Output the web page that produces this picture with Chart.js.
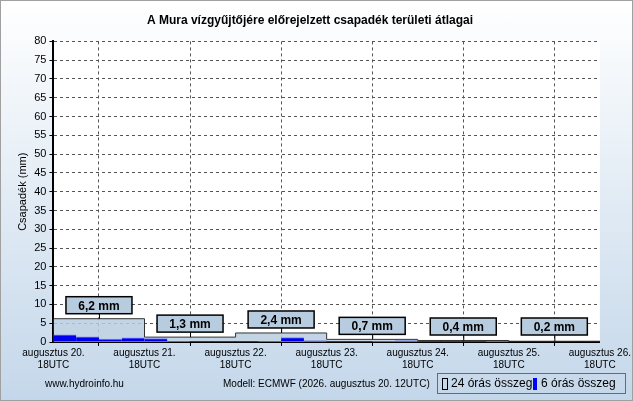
<!DOCTYPE html>
<html>
<head>
<meta charset="utf-8">
<script src="https://cdn.jsdelivr.net/npm/chart.js@4"></script>
<style>
  html, body { margin: 0; padding: 0; }
  #wrap { width: 631px; height: 399px; border: 1px solid #a0a0a0;
    background: linear-gradient(#ffffff, #c4d7ea); }
</style>
</head>
<body>
<div id="wrap"><canvas id="chart" width="631" height="399"></canvas></div>
<script>
// x in 6-hour steps from aug 20 18UTC
const dayLabels = ["augusztus 20.", "augusztus 21.", "augusztus 22.", "augusztus 23.", "augusztus 24.", "augusztus 25.", "augusztus 26."];
const dailySums = [6.2, 1.3, 2.4, 0.7, 0.4, 0.2];
const dailyText = ["6,2 mm", "1,3 mm", "2,4 mm", "0,7 mm", "0,4 mm", "0,2 mm"];
const sixHourly = [
  1.9, 1.4, 0.8, 1.1,
  0.9, 0.2, 0.1, 0.1,
  0.1, 0.2, 1.2, 0.3,
  0.1, 0.1, 0.2, 0.3,
  0.1, 0.1, 0.1, 0.2,
  0.05, 0.05, 0.05, 0.05
];

const stepPoints = dailySums.map((v, i) => ({ x: i * 4, y: v }));
stepPoints.push({ x: 24, y: 0 });
const barPoints = sixHourly.map((v, i) => ({ x: i + 0.5, y: v }));

const decorPlugin = {
  id: "decor",
  beforeDraw(chart) {
    const { ctx, chartArea: a } = chart;
    ctx.save();
    ctx.fillStyle = "#ffffff";
    ctx.fillRect(a.left, a.top, a.right - a.left, a.bottom - a.top);
    ctx.restore();
  },
  afterDraw(chart) {
    const { ctx, scales } = chart;
    const xs = scales.x, ys = scales.y;
    ctx.save();
    ctx.font = "bold 12px Arial, 'Liberation Sans'";
    ctx.textAlign = "center";
    ctx.textBaseline = "middle";
    dailySums.forEach((v, i) => {
      const cx = xs.getPixelForValue(i * 4 + 2);
      const top = ys.getPixelForValue(v);
      const bottom = Math.min(top - 5, 334);
      const h = 17, w = 66;
      ctx.strokeStyle = "#000";
      ctx.lineWidth = 1;
      ctx.beginPath();
      ctx.moveTo(cx + 0.5, bottom);
      ctx.lineTo(cx + 0.5, top);
      ctx.stroke();
      ctx.fillStyle = "#b8cce0";
      ctx.fillRect(cx - w / 2, bottom - h, w, h);
      ctx.lineWidth = 1.5;
      ctx.strokeRect(cx - w / 2, bottom - h, w, h);
      ctx.fillStyle = "#000";
      ctx.fillText(dailyText[i], cx, bottom - h / 2 + 1);
    });
    ctx.font = "10px Arial, 'Liberation Sans'";
    ctx.textAlign = "left";
    ctx.fillText("www.hydroinfo.hu", 44, 383);
    ctx.fillText("Modell: ECMWF (2026. augusztus 20. 12UTC)", 222, 383);
    // legend
    ctx.setLineDash([1, 1]);
    ctx.strokeStyle = "#000";
    ctx.lineWidth = 1;
    ctx.strokeRect(436.5, 372.5, 188, 20);
    ctx.setLineDash([]);
    ctx.strokeRect(441.5, 377.5, 5, 11);
    ctx.font = "12px Arial, 'Liberation Sans'";
    ctx.fillText("24 órás összeg", 450, 383);
    ctx.fillStyle = "#0000ff";
    ctx.fillRect(532, 377, 4, 12);
    ctx.fillStyle = "#000";
    ctx.fillText("6 órás összeg", 540, 383);
    ctx.restore();
  }
};

new Chart(document.getElementById("chart"), {
  data: {
    datasets: [
      {
        type: "bar",
        data: barPoints,
        backgroundColor: "#0000ee",
        borderColor: "#8080ff",
        borderWidth: { top: 1, left: 0, right: 0, bottom: 0 },
        barPercentage: 1,
        categoryPercentage: 1,
        order: 1
      },
      {
        type: "line",
        data: stepPoints,
        stepped: "before",
        fill: "origin",
        backgroundColor: "rgba(184, 204, 224, 0.85)",
        borderColor: "#333333",
        borderWidth: 1,
        pointRadius: 0,
        order: 2
      }
    ]
  },
  options: {
    responsive: false,
    animation: false,
    layout: { padding: { left: 13, right: 26, top: 0, bottom: 28 } },
    plugins: {
      legend: { display: false },
      tooltip: { enabled: false },
      title: {
        display: true,
        text: "A Mura vízgyűjtőjére előrejelzett csapadék területi átlagai",
        color: "#000",
        font: { family: "Arial, 'Liberation Sans'", size: 12, weight: "bold" },
        padding: { top: 12, bottom: 14 }
      }
    },
    scales: {
      x: {
        type: "linear",
        min: 0,
        max: 24,
        offset: false,
        border: { color: "#000", width: 2, dash: [3, 3] },
        grid: { color: "#555", drawTicks: true, tickLength: 4, tickColor: "#000" },
        ticks: {
          stepSize: 4,
          autoSkip: false,
          maxRotation: 0,
          color: "#000",
          padding: 1,
          font: { family: "Arial, 'Liberation Sans'", size: 10 },
          callback: (v) => [dayLabels[v / 4], "18UTC"]
        }
      },
      y: {
        min: 0,
        max: 80,
        border: { color: "#000", width: 2, dash: [3, 3] },
        grid: { color: "#555", tickLength: 4, tickColor: "#000" },
        ticks: {
          stepSize: 5,
          color: "#000",
          font: { family: "Arial, 'Liberation Sans'", size: 11 }
        },
        title: {
          display: true,
          text: "Csapadék (mm)",
          color: "#000",
          font: { family: "Arial, 'Liberation Sans'", size: 11 },
          padding: 2
        }
      }
    }
  },
  plugins: [decorPlugin]
});
</script>
</body>
</html>
